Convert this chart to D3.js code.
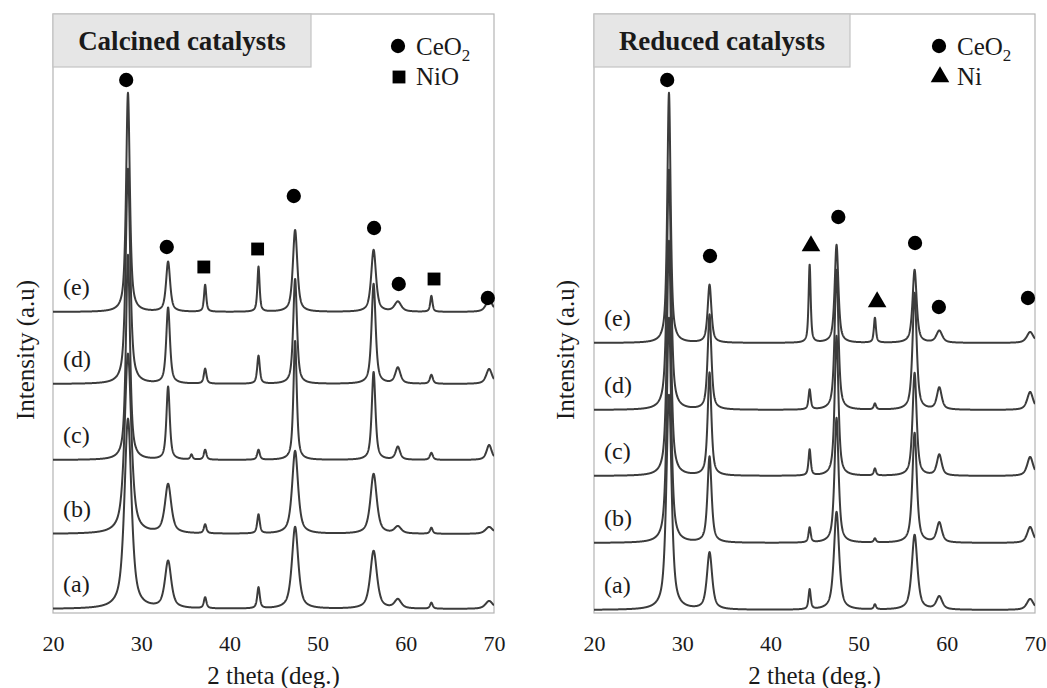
<!DOCTYPE html>
<html>
<head>
<meta charset="utf-8">
<script src="https://cdn.jsdelivr.net/npm/d3@7"></script>
<style>
  body { margin: 0; background: #fff; }
  svg text { font-family: "Liberation Serif", "Times New Roman", "DejaVu Serif", serif !important; fill: #1a1a1a; }
</style>
</head>
<body>
<div id="chart"></div>
<script>
// samples, bottom to top
let sampleLabels = ["(a)", "(b)", "(c)", "(d)", "(e)"]
let xTicks = [20, 30, 40, 50, 60, 70]

// ---- calcined catalysts ----
let calcCenters = [28.5, 33.05, 35.7, 37.25, 43.3, 47.45, 56.35, 59.1, 62.9, 69.45]
let calcHeights = [
  [190, 47, 0, 11, 21, 82, 58, 9, 6, 8],
  [180, 49, 0, 9, 19, 83, 60, 7, 6, 7],
  [205, 73, 5, 10, 10, 119, 88, 13, 7, 15],
  [215, 76, 0, 15, 28, 105, 100, 16, 9, 15],
  [219, 50, 0, 27, 45, 82, 62, 10, 16, 12]
]
let calcWidths = [
  [0.95, 0.85, 0.3, 0.35, 0.35, 0.85, 0.9, 0.9, 0.35, 1.0],
  [0.9, 0.85, 0.3, 0.35, 0.35, 0.8, 0.85, 0.9, 0.35, 1.0],
  [0.55, 0.45, 0.3, 0.35, 0.35, 0.45, 0.5, 0.6, 0.4, 0.7],
  [0.6, 0.5, 0.3, 0.35, 0.35, 0.5, 0.55, 0.7, 0.4, 0.8],
  [0.5, 0.55, 0.3, 0.3, 0.3, 0.6, 0.65, 0.9, 0.3, 0.9]
]
let calcOffsets = [4, 79, 153, 229, 301]
let calcMarkX = [28.3, 32.9, 37.1, 43.2, 47.3, 56.4, 59.2, 63.2, 69.3]
let calcMarkY = [533, 366, 346, 364, 417, 385, 329, 334, 315]
let calcMarkType = ["circle", "circle", "square", "square", "circle", "circle", "circle", "square", "circle"]

// ---- reduced catalysts ----
let redCenters = [28.5, 33.1, 44.45, 47.5, 51.85, 56.35, 59.15, 69.45]
let redHeights = [
  [215, 57, 20, 98, 5, 75, 13, 11],
  [225, 86, 15, 125, 4, 110, 20, 16],
  [235, 103, 26, 140, 7, 103, 21, 19],
  [240, 95, 20, 140, 6, 117, 22, 18],
  [250, 58, 78, 98, 25, 73, 12, 11]
]
let redWidths = [
  [0.7, 0.7, 0.3, 0.7, 0.3, 0.75, 0.8, 0.9],
  [0.6, 0.55, 0.3, 0.55, 0.3, 0.6, 0.7, 0.8],
  [0.55, 0.5, 0.3, 0.5, 0.3, 0.55, 0.65, 0.8],
  [0.55, 0.5, 0.3, 0.5, 0.3, 0.55, 0.65, 0.8],
  [0.45, 0.5, 0.28, 0.5, 0.28, 0.55, 0.8, 0.9]
]
let redOffsets = [3, 70, 137, 203, 270]
let redMarkX = [28.3, 33.15, 44.6, 47.7, 52.1, 56.4, 59.1, 69.2]
let redMarkY = [533, 357, 367, 396, 311, 370, 306, 315]
let redMarkType = ["circle", "circle", "triangle", "circle", "triangle", "circle", "circle", "circle"]

let width = 1047, height = 688
let serif = "'Liberation Serif', 'Times New Roman', 'DejaVu Serif', serif"
let svg = d3.select("#chart").append("svg")
  .attr("width", width)
  .attr("height", height)
  .attr("font-family", serif)

// pseudo-voigt profile for each listed reflection
function pattern(centers, heights, widths, offset) {
  let pts = d3.range(20, 70.001, 0.02)
  return pts.map(t => {
    let v = offset
    centers.forEach((c, i) => {
      let hw = widths[i] / 2
      let u = (t - c) / hw
      v += heights[i] * (0.7 / (1 + u * u) + 0.3 * Math.exp(-Math.LN2 * u * u))
    })
    return [t, v]
  })
}

function drawPanel(p) {
  let x = d3.scaleLinear().domain([20, 70]).range([p.left, p.right])
  let y = d3.scaleLinear().domain([0, 600]).range([613, 13])
  let g = svg.append("g")

  g.append("clipPath").attr("id", "clip" + p.id)
    .append("rect")
    .attr("x", p.left).attr("y", 14)
    .attr("width", p.right - p.left).attr("height", 599)

  g.append("rect")
    .attr("x", p.left).attr("y", 14)
    .attr("width", p.right - p.left).attr("height", 599)
    .attr("fill", "none").attr("stroke", "#b4b4b4").attr("stroke-width", 1.2)

  let line = d3.line().x(d => x(d[0])).y(d => y(d[1]))
  g.append("g").attr("clip-path", `url(#clip${p.id})`)
    .selectAll("path")
    .data(p.heights.map((h, i) => pattern(p.centers, h, p.widths[i], p.offsets[i])))
    .join("path")
    .attr("d", line)
    .attr("fill", "none")
    .attr("stroke", "#3c3c3c")
    .attr("stroke-width", 2)
    .attr("stroke-linejoin", "round")

  g.selectAll(".lab")
    .data(sampleLabels)
    .join("text")
    .attr("x", p.left + 10)
    .attr("y", (d, i) => y(p.offsets[i]) - 17)
    .attr("font-size", 24)
    .text(d => d)

  // phase markers
  let sym = {circle: d3.symbolCircle, square: d3.symbolSquare, triangle: d3.symbolTriangle}
  let size = {circle: 160, square: 165, triangle: 150}
  g.selectAll(".mark")
    .data(p.markX)
    .join("path")
    .attr("transform", (d, i) => `translate(${x(d)},${y(p.markY[i])})`)
    .attr("d", (d, i) => d3.symbol(sym[p.markType[i]], size[p.markType[i]])())
    .attr("fill", "#000")

  // title box
  g.append("rect")
    .attr("x", p.left).attr("y", 14)
    .attr("width", p.boxW).attr("height", 53)
    .attr("fill", "#e6e6e6").attr("stroke", "#c4c4c4").attr("stroke-width", 1.2)
  g.append("text")
    .attr("x", p.left + p.boxW / 2).attr("y", 50)
    .attr("text-anchor", "middle")
    .attr("font-size", 27).attr("font-weight", "bold")
    .text(p.title)

  // legend
  let lx = p.right - 96
  g.append("path")
    .attr("transform", `translate(${lx},46)`)
    .attr("d", d3.symbol(d3.symbolCircle, 160)())
  let t1 = g.append("text").attr("x", lx + 18).attr("y", 55).attr("font-size", 25)
  t1.append("tspan").text("CeO")
  t1.append("tspan").attr("font-size", 17).attr("dy", 6).text("2")
  g.append("path")
    .attr("transform", `translate(${lx + 1},77)`)
    .attr("d", d3.symbol(sym[p.legend2Type], size[p.legend2Type])())
  g.append("text").attr("x", lx + 18).attr("y", 85).attr("font-size", 25).text(p.legend2)

  // x axis
  let ax = g.append("g")
    .attr("transform", "translate(0,613)")
    .call(d3.axisBottom(x).tickValues(xTicks).tickSize(0).tickPadding(22))
  ax.attr("font-family", serif)
  ax.select(".domain").remove()
  ax.selectAll("text")
    .attr("font-size", 22)
    .attr("fill", "#1a1a1a")

  g.append("text")
    .attr("x", (p.left + p.right) / 2).attr("y", 684)
    .attr("text-anchor", "middle").attr("font-size", 25)
    .text("2 theta (deg.)")

  g.append("text")
    .attr("transform", `translate(${p.yLabX},350) rotate(-90)`)
    .attr("text-anchor", "middle").attr("font-size", 25)
    .text("Intensity (a.u)")
}

drawPanel({
  id: "calc", left: 53, right: 494, boxW: 258, yLabX: 34,
  title: "Calcined catalysts",
  centers: calcCenters, heights: calcHeights, widths: calcWidths, offsets: calcOffsets,
  markX: calcMarkX, markY: calcMarkY, markType: calcMarkType,
  legend2: "NiO", legend2Type: "square"
})

drawPanel({
  id: "red", left: 594, right: 1035, boxW: 256, yLabX: 574,
  title: "Reduced catalysts",
  centers: redCenters, heights: redHeights, widths: redWidths, offsets: redOffsets,
  markX: redMarkX, markY: redMarkY, markType: redMarkType,
  legend2: "Ni", legend2Type: "triangle"
})
</script>
</body>
</html>
